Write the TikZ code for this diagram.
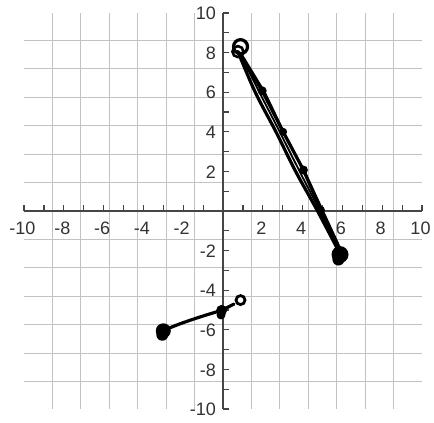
\documentclass[tikz,border=0pt]{standalone}
\usepackage{fontspec}
\setmainfont{Liberation Sans}
\definecolor{gridc}{HTML}{C2C2C2}
\definecolor{axisc}{HTML}{454545}
\definecolor{labc}{HTML}{333333}
\begin{document}
\begin{tikzpicture}[x=1pt,y=1pt,
  lab/.style={text=labc,font=\fontsize{18}{18}\selectfont,inner sep=0pt},
  pen/.style={black,line width=3.2pt,line cap=round,line join=round},
  thinpen/.style={black,line width=1.8pt,line cap=round,line join=round}]
\useasboundingbox (0,0) rectangle (434,423);
\fill[white] (0,0) rectangle (434,423);
\begin{scope}[shift={(223,212)}, x=19.9pt, y=19.8pt]
  % grid
  \draw[gridc, line width=1.1pt] (-10,-10) grid (10,10);
  % axes
  \draw[axisc, line width=1.8pt] (-10,0) -- (10,0);
  \draw[axisc, line width=1.8pt] (0,-10) -- (0,10);
  \foreach \i in {-10,...,10} {
    \draw[axisc, line width=1.2pt] (\i,0) -- ++(0,6pt);
    \draw[axisc, line width=1.2pt] (0,\i) -- ++(6pt,0);
  }
  % labels
  \foreach \i in {-10,-8,-6,-4,-2,2,4,6,8,10} {
    \node[lab] (xl\i) at (\i,0) [yshift=-17pt,xshift=-1.5pt] {\i};
    \node[lab,anchor=east] (yl\i) at (0,\i) [xshift=-7pt,yshift=-0.5pt] {\i};
  }
  % upper graph points
  \coordinate (A) at (0.88,8.3);
  \coordinate (A2) at (0.75,8.05);
  \coordinate (P1) at (1.97,6.07);
  \coordinate (P2) at (3.02,4.0);
  \coordinate (P3) at (4.04,2.07);
  \coordinate (P4) at (4.92,0.05);
  \coordinate (B) at (5.88,-2.2);
  % strokes of the upper graph
  \draw[pen] (A2) -- (P1) -- (P2) -- (P3) -- (P4) -- (B);
  \draw[pen] plot[smooth, tension=0.6] coordinates {(0.75,8.05) (1.62,6) (2.66,4) (3.65,2) (4.75,0) (5.85,-2.1)};
  \draw[thinpen] plot[smooth, tension=0.6] coordinates {(0.85,7.95) (1.8,6.05) (2.85,4.0) (3.85,2.0) (4.85,0.05) (5.9,-2.0)};
  \draw[thinpen] (0.95,7.9) -- (2.1,6.0) -- (3.15,3.8) -- (4.2,1.8) -- (5.95,-2.0);
  % dots
  \fill (P1) circle (4.5pt);
  \fill (P2) circle (4pt);
  \fill (P3) circle (4.5pt);
  \fill (P4) circle (4pt);
  \fill (B) circle (8.5pt);
  \fill (5.8,-2.45) circle (6pt);
  % open circles
  \draw[black,line width=3.2pt] (A) circle (7pt);
  \draw[black,line width=2.6pt] (A2) circle (5.5pt);
  % lower graph
  \coordinate (C) at (-3.0,-6.05);
  \coordinate (D) at (-0.07,-5.02);
  \coordinate (E) at (0.88,-4.5);
  \draw[pen] (C) .. controls (-2.4,-5.75) and (-1.2,-5.35) .. (D) -- (0.55,-4.7);
  \fill (C) circle (7.5pt);
  \fill (-3.05,-6.25) circle (6pt);
  \fill (D) circle (5.5pt);
  \fill (-0.1,-5.25) circle (4.5pt);
  \draw[black,line width=2.8pt] (E) circle (4.5pt);
\end{scope}
\end{tikzpicture}
\end{document}
